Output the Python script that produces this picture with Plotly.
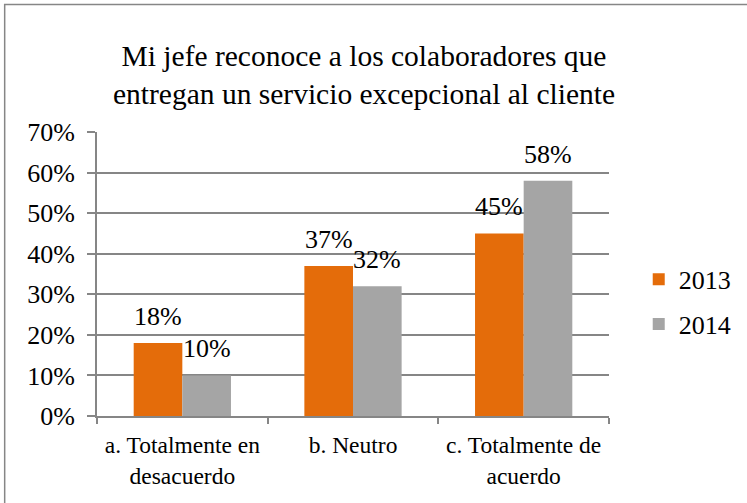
import plotly.graph_objects as go

categories = ["a. Totalmente en<br>desacuerdo", "b. Neutro", "c. Totalmente de<br>acuerdo"]
series_names = ["2013", "2014"]
values_2013 = [0.18, 0.37, 0.45]
values_2014 = [0.10, 0.32, 0.58]
y_ticks = [0, 0.1, 0.2, 0.3, 0.4, 0.5, 0.6, 0.7]

colors = ["#E46C0A", "#A5A5A5"]
serif = "Liberation Serif"

W, H = 747, 503
L, R, T, B = 97, 137, 132, 87
pw, ph = W - L - R, H - T - B

fig = go.Figure()
for i, (name, vals) in enumerate(zip(series_names, [values_2013, values_2014])):
    fig.add_trace(go.Bar(
        x=categories, y=vals, name=name,
        marker=dict(color=colors[i], line_width=0),
        legendgroup=name,
    ))

# Data labels above each bar
bar_w = pw / 3 * (1 - 0.43) / 2
for i, vals in enumerate([values_2013, values_2014]):
    shift = (-0.5 if i == 0 else 0.5) * bar_w
    for c, v in zip(categories, vals):
        fig.add_annotation(
            x=c, y=v, xref="x", yref="y", xshift=shift, yshift=10,
            text=f"{round(v * 100)}%", showarrow=False, yanchor="bottom",
            font=dict(family=serif, size=26, color="black"),
        )

# Outer chart border (right/bottom fall outside the picture)
fig.add_shape(type="rect", xref="paper", yref="paper",
              x0=(4.5 - L) / pw, x1=(W + 20 - L) / pw,
              y0=-(H + 20 - T - ph) / ph, y1=(H - B - 4.5) / ph,
              line=dict(color="#868686", width=1.5), fillcolor="rgba(0,0,0,0)")

fig.update_layout(
    width=W, height=H,
    margin=dict(l=L, r=R, t=T, b=B),
    plot_bgcolor="white", paper_bgcolor="white",
    barmode="group", bargap=0.43, bargroupgap=0,
    title=dict(
        text="Mi jefe reconoce a los colaboradores que<br>entregan un servicio excepcional al cliente",
        x=364 / W, xanchor="center", y=1 - 66 / H, yanchor="middle",
        font=dict(family=serif, size=29.5, color="black"),
    ),
    font=dict(family=serif, color="black"),
    xaxis=dict(
        showline=True, linecolor="#868686", linewidth=2, automargin=False,
        ticks="outside", tickson="boundaries", ticklen=6, tickcolor="#868686", tickwidth=1.5,
        ticklabelstandoff=7,
        tickfont=dict(family=serif, size=23.5, color="black"),
        showgrid=False,
    ),
    yaxis=dict(
        range=[0, 0.7], tickvals=y_ticks, tickformat=".0%", automargin=False,
        showline=True, linecolor="#868686", linewidth=2,
        ticks="outside", ticklen=8, tickcolor="#868686", tickwidth=1.5,
        ticklabelstandoff=7,
        showgrid=True, gridcolor="#868686", gridwidth=1.5,
        zeroline=False,
        tickfont=dict(family=serif, size=26, color="black"),
    ),
    legend=dict(
        x=1.056, y=0.402, xanchor="left", yanchor="middle",
        font=dict(family=serif, size=26, color="black"),
        tracegroupgap=8, bgcolor="rgba(0,0,0,0)",
    ),
    showlegend=True,
)

fig.write_html("out.html", config={"displayModeBar": False},
               post_script="document.body.style.margin='0';document.body.style.overflow='hidden';")
